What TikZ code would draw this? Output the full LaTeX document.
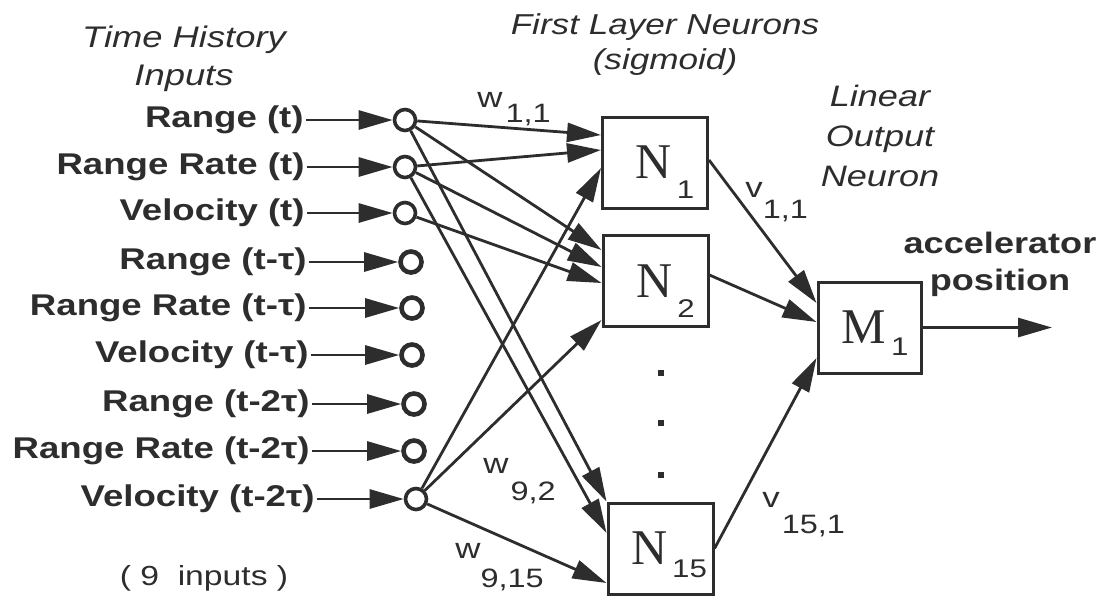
\documentclass[tikz,border=0pt]{standalone}
\usepackage{fontspec}
\setmainfont{Liberation Sans}[FakeStretch=1.22]
\newfontfamily\serifN{Liberation Serif}
\usetikzlibrary{arrows.meta}
\definecolor{ink}{RGB}{45,45,45}

% neuron name with a dropped sans subscript
\newcommand{\unitname}[4]{\hspace*{#4}{\serifN #1}\hspace{2.5pt}\raisebox{-#3}[0pt][0pt]{\fontsize{12.8}{12.8}\selectfont #2}}
% weight name with a dropped subscript
\newcommand{\wname}[4]{#1\hspace{#4}\raisebox{-#3}{\fontsize{13.3}{13.3}\selectfont #2}}

\tikzset{
  wire/.style={draw=ink, line width=1.4pt, -{Triangle[length=17pt,width=9.5pt]}},
  inpt/.style={circle, draw=ink, line width=1.8pt, minimum size=10.5pt, inner sep=0pt},
  neuron/.style={draw=ink, line width=1.5pt, minimum width=52.5pt, minimum height=45.5pt,
    inner sep=0pt, text=ink, font=\fontsize{25}{25}\selectfont},
  inlabel/.style={anchor=east, inner sep=1pt, text=ink, font=\fontsize{15}{16}\selectfont\bfseries},
  heading/.style={align=center, text=ink, font=\fontsize{14.9}{19}\selectfont\itshape},
  wlabel/.style={anchor=base west, inner sep=0pt, text=ink, font=\fontsize{14.3}{14.3}\selectfont},
  dotmark/.style={fill=ink, minimum size=3pt, inner sep=0pt},
}

\begin{document}
\begin{tikzpicture}[x=0.5pt, y=-0.5pt]
  \useasboundingbox (0,0) rectangle (1111,602);

  % column headings
  \node[heading] (ttlin) at (184,59) {Time History\\Inputs};
  \node[heading, font=\fontsize{14.4}{17.5}\selectfont\itshape] (ttlhid) at (665,45) {First Layer Neurons\\(sigmoid)};
  \node[heading, font=\fontsize{14.8}{20}\selectfont\itshape] (ttlout) at (880,136) {Linear\\Output\\Neuron};

  % input taps
  \foreach \i/\cx/\cy/\lx/\lw/\txt in {
      1/405/120/306/1.8/{Range (t)},
      2/405/167/307/1.8/{Range Rate (t)},
      3/405/213/307/1.8/{Velocity (t)},
      4/411/262/309/2.3/{Range (t-τ)},
      5/412/308/309/2.3/{Range Rate (t-τ)},
      6/412/355/311/2.3/{Velocity (t-τ)},
      7/414/404/312/2.3/{Range (t-2τ)},
      8/414/451/312/2.3/{Range Rate (t-2τ)},
      9/416/499/317/1.8/{Velocity (t-2τ)}}{
    \node[inpt, line width=\lw pt] (c\i) at (\cx,\cy) {};
    \node[inlabel] (lab\i) at (\lx,\cy) {\txt};
    \draw[wire] (lab\i) -- (c\i);
  }
  \node[text=ink, font=\fontsize{13.8}{14}\selectfont] (count) at (204,578) {( 9 \ inputs )};

  % first layer
  \node[neuron] (N1) at (655,162.5) {\unitname{N}{1}{10pt}{10pt}};
  \node[neuron] (N2) at (655.5,281) {\unitname{N}{2}{10pt}{10pt}};
  \node[neuron] (N15) at (660.5,548.5) {\unitname{N}{15}{6.5pt}{8.5pt}};
  \foreach \j/\dy in {1/373, 2/423, 3/475}
    \node[dotmark] (dot\j) at (661,\dy) {};

  % output neuron
  \node[neuron, minimum width=51.5pt] (M1) at (869.5,327.5) {\unitname{M}{1}{6pt}{5.5pt}};
  \coordinate (outend) at (1052,327.5);
  \node[align=center, text=ink, font=\fontsize{14.8}{18.5}\selectfont\bfseries] (accel) at (1000,264) {accelerator\\position};

  % input -> first layer
  \draw[wire] (c1) -- ([yshift=13.75pt]N1.west);
  \draw[wire] (c2) -- ([yshift=6.25pt]N1.west);
  \draw[wire] (c9) -- ([yshift=-2.75pt]N1.west);
  \draw[wire] (c1) -- ([yshift=15.5pt]N2.west);
  \draw[wire] (c2) -- ([yshift=7pt]N2.west);
  \draw[wire] (c3) -- ([yshift=-1pt]N2.west);
  \draw[wire] (c9) -- ([yshift=-19.5pt]N2.west);
  \draw[wire] (c1) -- (N15.north west);
  \draw[wire] (c2) -- ([yshift=7.75pt]N15.west);
  \draw[wire] (c9) -- ([yshift=-17.25pt]N15.west);

  % first layer -> output
  \draw[wire] ([yshift=1.25pt]N1.east) -- ([yshift=12.25pt]M1.west);
  \draw[wire] ([yshift=3pt]N2.east) -- ([yshift=2.75pt]M1.west);
  \draw[wire] (N15.east) -- ([yshift=-15.25pt]M1.west);
  \draw[wire] (M1.east) -- (outend);

  % weight labels
  \node[wlabel] (w11) at (477,107) {\wname{w}{1,1}{7.5pt}{1.5pt}};
  \node[wlabel] (w92) at (483,473) {\wname{w}{9,2}{13.5pt}{1pt}};
  \node[wlabel] (w915) at (455,558) {\wname{w}{9,15}{14.5pt}{0pt}};
  \node[wlabel] (v11) at (745,197) {\wname{v}{1,1}{10.5pt}{0pt}};
  \node[wlabel] (v151) at (762,507) {\wname{v}{15,1}{13pt}{1pt}};
\end{tikzpicture}
\end{document}
